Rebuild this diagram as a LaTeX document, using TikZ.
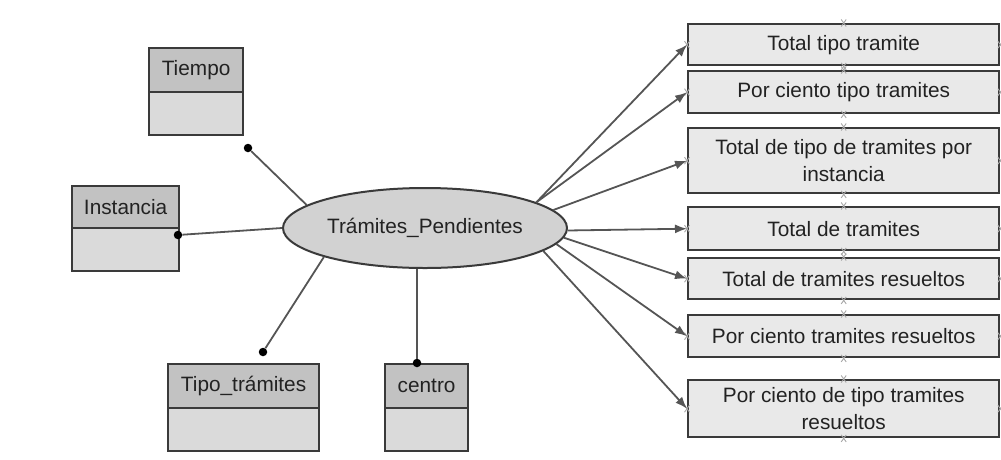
\documentclass[tikz,border=0pt]{standalone}
\usepackage{fontspec}
\setmainfont{Liberation Sans}
\usetikzlibrary{shapes.geometric,arrows.meta}

\definecolor{ink}{HTML}{222222}
\definecolor{edge}{HTML}{3A3A3A}
\definecolor{wire}{HTML}{555555}
\definecolor{headfill}{HTML}{C2C2C2}
\definecolor{bodyfill}{HTML}{DADADA}
\definecolor{factfill}{HTML}{D2D2D2}
\definecolor{measfill}{HTML}{E9E9E9}
\definecolor{tick}{HTML}{A8A8A8}

\tikzset{
  txt/.style={font=\fontsize{20.8}{27}\selectfont, text=ink},
  dimhead/.style={txt, draw=edge, line width=2.2pt, fill=headfill,
    anchor=north west, inner sep=0pt, minimum height=44pt},
  dimbody/.style={draw=edge, line width=2.2pt, fill=bodyfill,
    anchor=north west, inner sep=0pt, minimum height=43pt},
  fact/.style={txt, ellipse, draw=edge, line width=2pt, fill=factfill,
    minimum width=284pt, minimum height=80pt, inner sep=0pt},
  measure/.style={txt, draw=edge, line width=2.4pt, fill=measfill,
    anchor=north west, inner sep=0pt, minimum width=311pt, align=center},
  dot/.style={circle, fill=black, inner sep=0pt, minimum size=8.5pt},
  wire/.style={draw=wire, line width=1.8pt},
  arrowline/.style={wire, -{Latex[length=12pt,width=9pt]}},
  pics/xm/.style={code={
    \draw[tick, line width=0.9pt] (-2.5pt,-3.5pt) -- (2.5pt,3.5pt)
      (-2.5pt,3.5pt) -- (2.5pt,-3.5pt);}}
}

\begin{document}
\begin{tikzpicture}[x=1pt,y=-1pt]
\useasboundingbox (0,0) rectangle (1001,459);

% central fact
\node[fact] (e) at (425,228) {Trámites\_Pendientes};

% dimension tables (header + body)
\node[dimhead, minimum width=94pt] (tiempoH) at (148,47) {Tiempo};
\node[dimbody, minimum width=94pt] (tiempoB) at (148,91) {};
\node[dimhead, minimum width=107pt, minimum height=42pt] (instH) at (71,185) {Instancia};
\node[dimbody, minimum width=107pt] (instB) at (71,227) {};
\node[dimhead, minimum width=151pt] (tipoH) at (167,363) {Tipo\_trámites};
\node[dimbody, minimum width=151pt] (tipoB) at (167,407) {};
\node[dimhead, minimum width=83pt] (centroH) at (384,363) {centro};
\node[dimbody, minimum width=83pt] (centroB) at (384,407) {};

% connection dots
\node[dot] (dT) at (248,148) {};
\node[dot] (dI) at (178,235) {};
\node[dot] (dP) at (263,352) {};
\node[dot] (dC) at (417,363) {};

\draw[wire] (dT) -- (e.169.6);
\draw[wire] (dI) -- (e.west);
\draw[wire] (dP) -- (e.-164);
\draw[wire] (dC) -- (dC |- e.south);

% measures
\node[measure, minimum height=41pt] (m1) at (687,23) {Total tipo tramite};
\node[measure, minimum height=42pt] (m2) at (687,70) {Por ciento tipo tramites};
\node[measure, minimum height=65pt] (m3) at (687,127) {Total de tipo de tramites por\\instancia};
\node[measure, minimum height=43pt] (m4) at (687,206) {Total de tramites};
\node[measure, minimum height=41pt] (m5) at (687,257) {Total de tramites resueltos};
\node[measure, minimum height=42pt] (m6) at (687,314) {Por ciento tramites resueltos};
\node[measure, minimum height=57pt] (m7) at (687,379) {Por ciento de tipo tramites\\resueltos};

% connection point ticks on each measure box
\foreach \b in {m1,m2,m3,m4,m5,m6,m7}
  \foreach \a in {north,south,east,west}
    \pic at (\b.\a) {xm};

% arrows to measures
\draw[arrowline] (e.13.5) -- (m1.west);
\draw[arrowline] (e.13.5) -- (m2.west);
\draw[arrowline] (e.8.5) -- (m3.west);
\draw[arrowline] (e.-1) -- (m4.west);
\draw[arrowline] (e.-4) -- (m5.west);
\draw[arrowline] (e.-7.3) -- (m6.west);
\draw[arrowline] (e.-11.5) -- (m7.west);
\end{tikzpicture}
\end{document}
